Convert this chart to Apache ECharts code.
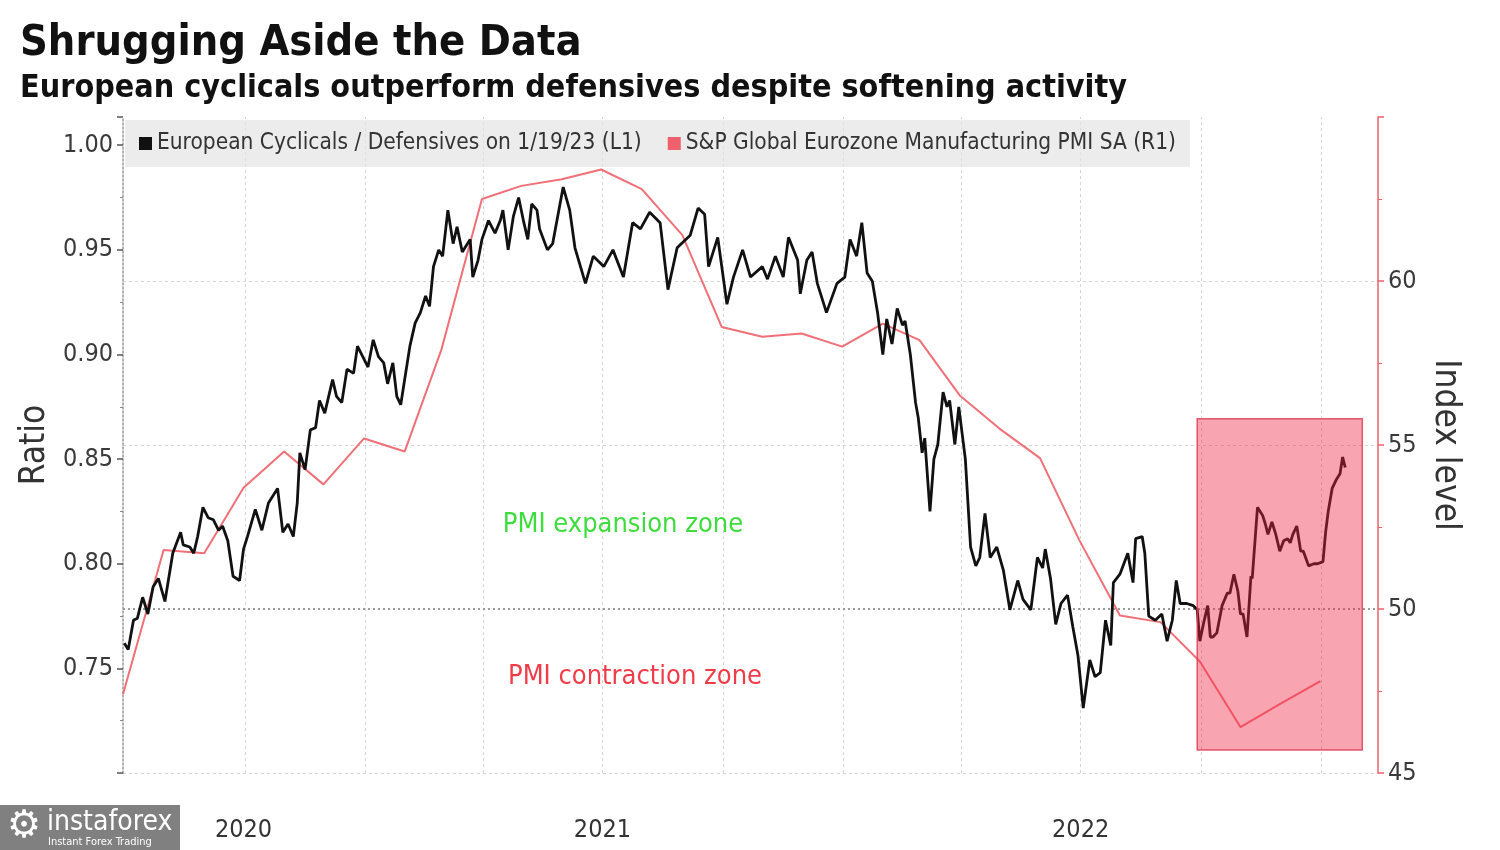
<!DOCTYPE html>
<html>
<head>
<meta charset="utf-8">
<script src="https://cdn.jsdelivr.net/npm/echarts@6/dist/echarts.min.js"></script>
<style>
html,body{margin:0;padding:0;background:#fff;}
#chart{width:1500px;height:850px;}
</style>
</head>
<body>
<div id="chart"></div>
<script>
// ---------------- DATA ----------------
const titleText = 'Shrugging Aside the Data';
const subtitleText = 'European cyclicals outperform defensives despite softening activity';
const ratioName = 'European Cyclicals / Defensives on 1/19/23 (L1)';
const pmiName = 'S&P Global Eurozone Manufacturing PMI SA (R1)';

const pmiDates = ['2020-06-30','2020-07-31','2020-08-31','2020-09-30','2020-10-31','2020-11-30','2020-12-31',
  '2021-01-31','2021-02-28','2021-03-31','2021-04-30','2021-05-31','2021-06-30','2021-07-31','2021-08-31',
  '2021-09-30','2021-10-31','2021-11-30','2021-12-31','2022-01-31','2022-02-28','2022-03-31','2022-04-30',
  '2022-05-31','2022-06-30','2022-07-31','2022-08-31','2022-09-30','2022-10-31','2022-11-30','2022-12-31'];
const pmiValues = [47.4,51.8,51.7,53.7,54.8,53.8,55.2,
  54.8,57.9,62.5,62.9,63.1,63.4,62.8,61.4,
  58.6,58.3,58.4,58.0,58.7,58.2,56.5,55.5,
  54.6,52.1,49.8,49.6,48.4,46.4,47.1,47.8];

const ratioDates = ['2020-07-01','2020-07-04','2020-07-08','2020-07-11','2020-07-15','2020-07-19','2020-07-23','2020-07-27',
'2020-08-01','2020-08-07','2020-08-13','2020-08-15','2020-08-20','2020-08-23','2020-08-26','2020-08-30',
'2020-09-03','2020-09-07','2020-09-11','2020-09-14','2020-09-18','2020-09-22','2020-09-27','2020-09-30',
'2020-10-03','2020-10-09','2020-10-14','2020-10-19','2020-10-26','2020-10-30',
'2020-11-03','2020-11-07','2020-11-10','2020-11-12','2020-11-16','2020-11-20','2020-11-24','2020-11-27',
'2020-12-01','2020-12-07','2020-12-10','2020-12-14','2020-12-18','2020-12-23','2020-12-26','2020-12-30',
'2021-01-03','2021-01-07','2021-01-11','2021-01-15','2021-01-18','2021-01-22','2021-01-25','2021-01-28','2021-01-31',
'2021-02-04','2021-02-08','2021-02-12','2021-02-16','2021-02-19','2021-02-22','2021-02-26',
'2021-03-01','2021-03-05','2021-03-09','2021-03-12','2021-03-16','2021-03-18','2021-03-22','2021-03-24','2021-03-28','2021-03-31',
'2021-04-05','2021-04-10','2021-04-14','2021-04-16','2021-04-20','2021-04-24','2021-04-28',
'2021-05-02','2021-05-05','2021-05-08','2021-05-12','2021-05-14','2021-05-20','2021-05-24',
'2021-06-01','2021-06-06','2021-06-10','2021-06-18','2021-06-24',
'2021-07-02','2021-07-09','2021-07-17','2021-07-24','2021-07-30',
'2021-08-06','2021-08-14','2021-08-20','2021-08-27',
'2021-09-06','2021-09-12','2021-09-17','2021-09-20','2021-09-27',
'2021-10-04','2021-10-09','2021-10-16','2021-10-22','2021-10-31',
'2021-11-04','2021-11-10','2021-11-16','2021-11-20','2021-11-27','2021-11-29',
'2021-12-04','2021-12-08','2021-12-12','2021-12-19','2021-12-27',
'2022-01-02','2022-01-06','2022-01-11','2022-01-15','2022-01-19','2022-01-23','2022-01-27','2022-01-31',
'2022-02-03','2022-02-07','2022-02-11','2022-02-15','2022-02-17','2022-02-21','2022-02-25','2022-02-27',
'2022-03-02','2022-03-04','2022-03-08','2022-03-11','2022-03-14','2022-03-18','2022-03-21','2022-03-23','2022-03-27','2022-03-30',
'2022-04-04','2022-04-08','2022-04-12','2022-04-15','2022-04-19','2022-04-23','2022-04-28',
'2022-05-03','2022-05-08','2022-05-14','2022-05-18','2022-05-24','2022-05-29',
'2022-06-02','2022-06-04','2022-06-08','2022-06-12','2022-06-16','2022-06-21','2022-06-25','2022-06-29',
'2022-07-03','2022-07-08','2022-07-12','2022-07-16','2022-07-20','2022-07-24','2022-07-26','2022-07-31',
'2022-08-06','2022-08-10','2022-08-12','2022-08-17','2022-08-19','2022-08-22','2022-08-27',
'2022-09-01','2022-09-05','2022-09-09','2022-09-12','2022-09-15','2022-09-20','2022-09-25','2022-09-28','2022-09-30',
'2022-10-03','2022-10-06','2022-10-08','2022-10-10','2022-10-13','2022-10-17','2022-10-21','2022-10-23','2022-10-26','2022-10-29','2022-10-31',
'2022-11-02','2022-11-05','2022-11-08','2022-11-09','2022-11-13','2022-11-17','2022-11-19','2022-11-21','2022-11-24','2022-11-27','2022-11-30',
'2022-12-03','2022-12-06','2022-12-08','2022-12-10','2022-12-13','2022-12-16','2022-12-18','2022-12-22','2022-12-26','2022-12-29',
'2023-01-02','2023-01-04','2023-01-06','2023-01-09','2023-01-12','2023-01-15','2023-01-17','2023-01-19'];

const ratioValues = [0.762,0.759,0.773,0.774,0.784,0.776,0.789,0.793,
0.782,0.805,0.815,0.809,0.808,0.805,0.813,0.827,
0.822,0.821,0.816,0.818,0.811,0.794,0.792,0.807,
0.813,0.826,0.816,0.829,0.836,0.815,
0.819,0.813,0.829,0.853,0.845,0.864,0.865,0.878,
0.872,0.888,0.880,0.877,0.893,0.891,0.904,0.899,
0.894,0.907,0.899,0.896,0.886,0.896,0.880,0.876,0.888,
0.904,0.915,0.920,0.928,0.923,0.942,0.950,
0.947,0.969,0.953,0.961,0.949,0.951,0.955,0.937,0.945,0.955,
0.964,0.958,0.964,0.969,0.950,0.966,0.975,
0.963,0.955,0.972,0.969,0.960,0.950,0.953,
0.980,0.969,0.951,0.934,0.947,
0.942,0.950,0.937,0.963,0.960,
0.968,0.963,0.931,0.951,
0.957,0.970,0.967,0.942,0.956,
0.924,0.937,0.950,0.937,0.942,
0.936,0.947,0.937,0.956,0.945,0.929,
0.945,0.949,0.934,0.920,0.934,
0.937,0.955,0.947,0.963,0.939,0.935,0.920,0.900,
0.917,0.905,0.922,0.914,0.916,0.900,0.877,0.870,
0.853,0.860,0.825,0.850,0.857,0.882,0.875,0.878,0.857,0.875,
0.850,0.808,0.799,0.803,0.824,0.803,0.808,
0.797,0.778,0.792,0.783,0.778,0.803,
0.798,0.807,0.793,0.771,0.781,0.785,0.770,0.756,
0.731,0.754,0.746,0.748,0.773,0.761,0.791,0.795,
0.805,0.791,0.812,0.813,0.805,0.775,0.773,
0.776,0.763,0.773,0.792,0.781,0.781,0.780,0.778,0.763,
0.772,0.780,0.765,0.765,0.767,0.780,0.786,0.786,0.795,0.787,0.776,
0.776,0.765,0.794,0.793,0.827,0.823,0.819,0.814,0.820,0.814,0.806,
0.811,0.812,0.810,0.814,0.818,0.806,0.806,0.799,0.800,0.800,
0.801,0.815,0.825,0.836,0.840,0.843,0.851,0.846];

// axis ranges and tick labels
const xStart = '2020-06-30';
const xEnd = '2023-02-13';
const yearLabelDates = ['2020-09-30','2021-07-01','2022-07-01'];
const yearLabels = ['2020','2021','2022'];
const quarterGridDates = ['2020-10-01','2021-01-01','2021-04-01','2021-07-01','2021-10-01',
  '2022-01-01','2022-04-01','2022-07-01','2022-10-01','2023-01-01'];
const ratioAxis = {min: 0.70, max: 1.0135, step: 0.05, labels: ['0.75','0.80','0.85','0.90','0.95','1.00']};
const pmiAxis = {min: 45, max: 65, step: 5, labels: ['45','50','55','60']};
const pmiGridLevels = [45, 55, 60];
const pmiThreshold = 50;
const highlightBox = {from: '2022-09-28', to: '2023-02-01', top: 55.8, bottom: 45.7};
const zoneLabels = ['PMI expansion zone', 'PMI contraction zone'];

// ---------------- CHART ----------------
const FONT = '"DejaVu Sans Condensed", "DejaVu Sans", sans-serif';
const toTs = d => new Date(d + 'T00:00:00').getTime();
const chart = echarts.init(document.getElementById('chart'), null, {renderer: 'canvas'});

const ratioData = ratioDates.map((d, i) => [toTs(d), ratioValues[i]]);
const pmiData = pmiDates.map((d, i) => [toTs(d), pmiValues[i]]);
const yearTs = yearLabelDates.map(toTs);

const gridLineStyle = {color: '#d4d4d4', type: [3, 3], width: 1};
const markLines = quarterGridDates.map(d => ({xAxis: toTs(d), lineStyle: gridLineStyle}))
  .concat(pmiGridLevels.map(v => ({yAxis: v, lineStyle: gridLineStyle})))
  .concat([{yAxis: pmiThreshold, lineStyle: {color: '#9a9a9a', type: [2, 3], width: 2}}]);

const option = {
  animation: false,
  backgroundColor: '#ffffff',
  grid: {left: 123, right: 122, top: 117, bottom: 77, containLabel: false},
  legend: {
    data: [ratioName, pmiName],
    left: 125, top: 120,
    backgroundColor: 'rgba(228,228,228,0.7)',
    padding: [12, 14, 12, 14],
    icon: 'rect', itemWidth: 13, itemHeight: 13, itemGap: 26,
    textStyle: {fontFamily: FONT, fontSize: 22.5, color: '#333'}
  },
  xAxis: {
    type: 'value',
    min: toTs(xStart), max: toTs(xEnd),
    axisLine: {show: false},
    axisTick: {show: false},
    splitLine: {show: false},
    axisLabel: {
      customValues: yearTs,
      formatter: v => { const i = yearTs.indexOf(v); return i >= 0 ? yearLabels[i] : ''; },
      fontFamily: FONT, fontSize: 25, color: '#333', margin: 45
    }
  },
  yAxis: [{
    type: 'value', position: 'left',
    min: ratioAxis.min, max: ratioAxis.max, interval: ratioAxis.step,
    name: 'Ratio', nameLocation: 'middle', nameRotate: 90, nameGap: 69,
    nameTextStyle: {fontFamily: FONT, fontSize: 35, color: '#333'},
    axisLine: {show: true, lineStyle: {color: '#9a9a9a', type: [2, 2], width: 1.5}},
    axisTick: {show: true, length: 6, lineStyle: {color: '#555', width: 1.5}},
    minorTick: {show: true, splitNumber: 2, length: 3, lineStyle: {color: '#888'}},
    splitLine: {show: false},
    axisLabel: {
      fontFamily: FONT, fontSize: 25, color: '#3a3a3a', margin: 10,
      formatter: v => { const s = v.toFixed(2); return ratioAxis.labels.indexOf(s) >= 0 && Math.abs(v - Number(s)) < 1e-6 ? s : ''; }
    }
  }, {
    type: 'value', position: 'right',
    min: pmiAxis.min, max: pmiAxis.max, interval: pmiAxis.step,
    name: 'Index level', nameLocation: 'middle', nameRotate: -90, nameGap: 45,
    nameTextStyle: {fontFamily: FONT, fontSize: 35, color: '#333'},
    axisLine: {show: true, lineStyle: {color: '#f0606c', width: 1.5}},
    axisTick: {show: true, length: 6, lineStyle: {color: '#f0606c', width: 1.5}},
    minorTick: {show: true, splitNumber: 2, length: 4, lineStyle: {color: '#f0606c'}},
    splitLine: {show: false},
    axisLabel: {
      fontFamily: FONT, fontSize: 25, color: '#3a3a3a', margin: 10,
      formatter: v => pmiAxis.labels.indexOf(String(v)) >= 0 ? String(v) : ''
    }
  }],
  series: [{
    name: 'gridlines', type: 'line', yAxisIndex: 1, data: [], z: 0,
    markLine: {silent: true, z: 0, symbol: ['none', 'none'], label: {show: false}, data: markLines, animation: false}
  }, {
    name: pmiName, type: 'line', yAxisIndex: 1, data: pmiData,
    showSymbol: false, symbol: 'none', z: 2,
    color: '#f0606c',
    lineStyle: {color: '#f07078', width: 2}
  }, {
    name: ratioName, type: 'line', yAxisIndex: 0, data: ratioData,
    showSymbol: false, symbol: 'none', z: 3,
    color: '#111111',
    lineStyle: {color: '#111111', width: 2.8}
  }, {
    name: 'highlight', type: 'line', yAxisIndex: 1, data: [], z: 6,
    markArea: {
      silent: true, z: 6,
      itemStyle: {color: 'rgba(240,40,70,0.42)', borderColor: 'rgba(225,60,85,0.85)', borderWidth: 1.5},
      data: [[{xAxis: toTs(highlightBox.from), yAxis: highlightBox.top}, {xAxis: toTs(highlightBox.to), yAxis: highlightBox.bottom}]]
    }
  }],
  graphic: [
    {type: 'text', x: 20, y: 44, style: {text: titleText, fontFamily: FONT, fontWeight: 'bold', fontSize: 43, fill: '#111', verticalAlign: 'middle'}},
    {type: 'text', x: 20, y: 89, style: {text: subtitleText, fontFamily: FONT, fontWeight: 'bold', fontSize: 32, fill: '#111', verticalAlign: 'middle'}},
    {type: 'text', x: 623, y: 525, z: 10, style: {text: zoneLabels[0], fontFamily: FONT, fontSize: 27, fill: '#3edc3e', align: 'center', verticalAlign: 'middle'}},
    {type: 'text', x: 635, y: 677, z: 10, style: {text: zoneLabels[1], fontFamily: FONT, fontSize: 27, fill: '#f03c48', align: 'center', verticalAlign: 'middle'}},
    {type: 'rect', shape: {x: 0, y: 805, width: 180, height: 45}, style: {fill: '#808080'}, z: 10},
    {type: 'text', x: 24, y: 827, z: 11, style: {text: '\u2699', fontFamily: '"DejaVu Sans"', fontSize: 38, fill: '#fff', align: 'center', verticalAlign: 'middle'}},
    {type: 'text', x: 47, y: 823, z: 11, style: {text: 'instaforex', fontFamily: FONT, fontSize: 28, fill: '#fff', verticalAlign: 'middle'}},
    {type: 'text', x: 48, y: 842, z: 11, style: {text: 'Instant Forex Trading', fontFamily: FONT, fontSize: 11, fill: '#fff', verticalAlign: 'middle'}}
  ]
};
chart.setOption(option);
</script>
</body>
</html>
